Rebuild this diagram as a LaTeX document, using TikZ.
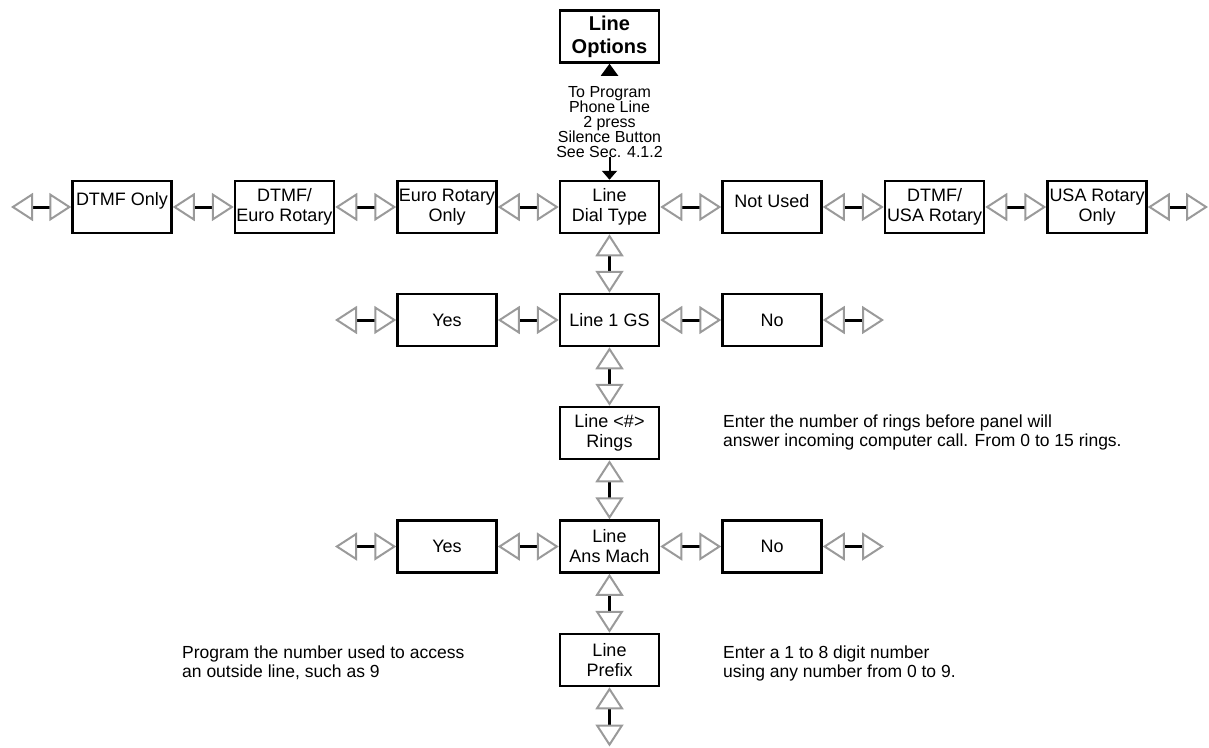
\documentclass[tikz,border=0pt]{standalone}
\usepackage{fontspec}
\setmainfont{Liberation Sans}
\usetikzlibrary{arrows.meta}
\definecolor{tipgray}{HTML}{9A9A9A}
\tikzset{
  box/.style={draw, line width=2.5pt, minimum width=99pt, minimum height=52pt,
    inner sep=0pt, align=center, font=\fontsize{18}{20}\selectfont},
  optbox/.style={box, font=\fontsize{20}{23}\selectfont\bfseries},
  conn/.style={line width=3pt, black, {Triangle[open, length=22pt, width=28pt, line width=2pt, color=tipgray]}-{Triangle[open, length=22pt, width=28pt, line width=2pt, color=tipgray]}},
  vconn/.style={line width=3pt, black, {Triangle[open, length=22pt, width=28pt, line width=2pt, color=tipgray]}-{Triangle[open, length=22pt, width=28pt, line width=2pt, color=tipgray]}},
  note/.style={inner sep=0pt, align=left, font=\fontsize{17.5}{19}\selectfont},
  smallnote/.style={inner sep=0pt, align=center, font=\fontsize{16}{15}\selectfont},
  blkup/.style={line width=2pt, -{Triangle[length=12pt, width=17pt]}},
  blkdown/.style={line width=2pt, -{Triangle[length=9pt, width=15pt]}},
}
\newcommand{\upt}[1]{\raisebox{6pt}[\height][\depth]{#1}}
\begin{document}
\begin{tikzpicture}[x=1pt, y=-1pt]
\useasboundingbox (0,0) rectangle (1209,747);

% top
\node[optbox] (opt) at (609.5,36.5) {Line\\Options};
\node[smallnote, anchor=north] (prog) at (609.5,86) {To Program\\Phone Line\\2 press\\Silence Button\\See Sec. 4.1.2};

% row 1
\node[box] (dtmf)  at (122,207)   {\upt{DTMF Only}};
\node[box] (deuro) at (284.5,207) {DTMF/\\Euro Rotary};
\node[box] (euro)  at (447,207)   {Euro Rotary\\Only};
\node[box] (dial)  at (609.5,207) {Line\\Dial Type};
\node[box] (nused) at (772,207)   {\upt{Not Used}};
\node[box] (dusa)  at (934.5,207) {DTMF/\\USA Rotary};
\node[box] (usa)   at (1097,207)  {USA Rotary\\Only};

% row 2
\node[box] (yesa) at (447,320)   {Yes};
\node[box] (gs)   at (609.5,320) {Line 1 GS};
\node[box] (noa)  at (772,320)   {No};

% rings
\node[box] (rings) at (609.5,433) {Line <\#>\\Rings};

% row 4
\node[box] (yesb) at (447,546.5)   {Yes};
\node[box] (ans)  at (609.5,546.5) {Line\\Ans Mach};
\node[box] (nob)  at (772,546.5)   {No};

% prefix
\node[box] (prefix) at (609.5,660) {Line\\Prefix};

% notes
\node[note, anchor=north west] (ringsnote) at (723,415) {Enter the number of rings before panel will\\answer incoming computer call. From 0 to 15 rings.};
\node[note, anchor=north west] (prefl) at (182,646) {Program the number used to access\\an outside line, such as 9};
\node[note, anchor=north west] (prefr) at (723,646) {Enter a 1 to 8 digit number\\using any number from 0 to 9.};

% free ends
\coordinate (l1) at (11,207);
\coordinate (r1) at (1208,207);
\coordinate (l2) at (335,320);
\coordinate (r2) at (884,320);
\coordinate (l4) at (335,546.5);
\coordinate (r4) at (884,546.5);
\coordinate (bot) at (609.5,746.5);
\coordinate (upbase) at ([yshift=-12pt]opt.south);
\coordinate (dnstart) at (609.5,157);

% black arrows
\draw[blkup] (upbase) -- (opt.south);
\draw[blkdown] (dnstart) -- (dial.north);

% row 1 connectors
\draw[conn] (l1) -- (dtmf.west);
\draw[conn] (dtmf.east) -- (deuro.west);
\draw[conn] (deuro.east) -- (euro.west);
\draw[conn] (euro.east) -- (dial.west);
\draw[conn] (dial.east) -- (nused.west);
\draw[conn] (nused.east) -- (dusa.west);
\draw[conn] (dusa.east) -- (usa.west);
\draw[conn] (usa.east) -- (r1);

% row 2 connectors
\draw[conn] (l2) -- (yesa.west);
\draw[conn] (yesa.east) -- (gs.west);
\draw[conn] (gs.east) -- (noa.west);
\draw[conn] (noa.east) -- (r2);

% row 4 connectors
\draw[conn] (l4) -- (yesb.west);
\draw[conn] (yesb.east) -- (ans.west);
\draw[conn] (ans.east) -- (nob.west);
\draw[conn] (nob.east) -- (r4);

% vertical connectors
\draw[vconn] (dial.south) -- (gs.north);
\draw[vconn] (gs.south) -- (rings.north);
\draw[vconn] (rings.south) -- (ans.north);
\draw[vconn] (ans.south) -- (prefix.north);
\draw[vconn] (prefix.south) -- (bot);
\end{tikzpicture}
\end{document}
